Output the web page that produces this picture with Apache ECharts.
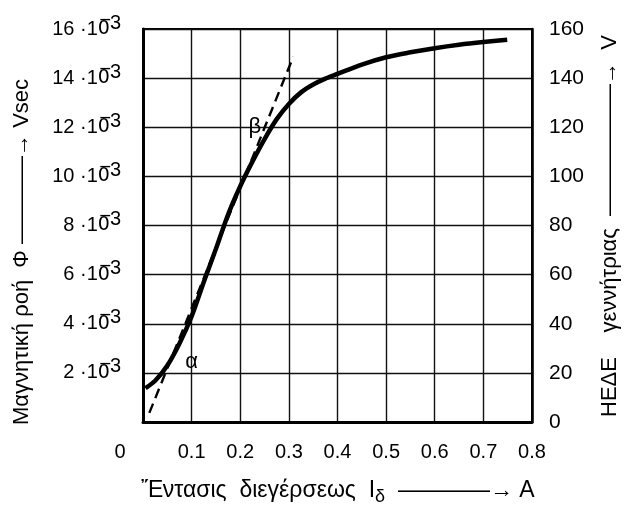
<!DOCTYPE html>
<html>
<head>
<meta charset="utf-8">
<script src="https://cdn.jsdelivr.net/npm/echarts@6/dist/echarts.min.js"></script>
<style>
  html, body { margin: 0; padding: 0; background: #fff; }
  #chart { width: 627px; height: 510px; }
</style>
</head>
<body>
<div id="chart"></div>
<script>
// Excitation current (A) vs magnetic flux (10^-3 Vsec)
const currentA = [0.005, 0.025, 0.05, 0.075, 0.1, 0.125, 0.15, 0.175, 0.2, 0.225, 0.25, 0.275,
  0.3, 0.325, 0.35, 0.375, 0.4, 0.45, 0.5, 0.55, 0.6, 0.65, 0.7, 0.749];
const fluxMilli = [1.38, 1.68, 2.3, 3.2, 4.3, 5.7, 7.05, 8.45, 9.6, 10.6, 11.52, 12.33,
  12.95, 13.42, 13.74, 13.98, 14.17, 14.55, 14.85, 15.05, 15.22, 15.36, 15.47, 15.56];
// dashed tangent line through α and β
const tangentX = [0.013, 0.309];
const tangentY = [0.37, 14.87];
const fluxTicks = [0, 2, 4, 6, 8, 10, 12, 14, 16];
const voltTicks = [0, 20, 40, 60, 80, 100, 120, 140, 160];

const FONT = '"Liberation Sans", Arial, sans-serif';

const chart = echarts.init(document.getElementById('chart'));

const curveData = currentA.map((x, i) => [x, fluxMilli[i]]);
const tangentData = tangentX.map((x, i) => [x, tangentY[i]]);

const option = {
  backgroundColor: '#fff',
  animation: false,
  grid: {
    left: 143, right: 95, top: 29, bottom: 88,
    show: true, borderColor: '#000', borderWidth: 2
  },
  xAxis: {
    type: 'value', min: 0, max: 0.8, interval: 0.1,
    axisLine: { show: true, lineStyle: { color: '#000', width: 3 } },
    axisTick: { show: false },
    splitLine: { show: true, lineStyle: { color: '#111', width: 1.4 } },
    axisLabel: {
      margin: 20, color: '#000', fontFamily: FONT, fontSize: 20,
      formatter: v => v === 0 ? '{z|0}' : String(Math.round(v * 10) / 10),
      rich: { z: { fontFamily: FONT, fontSize: 20, color: '#000', padding: [0, 46, 0, 0] } }
    }
  },
  yAxis: [
    {
      type: 'value', min: 0, max: fluxTicks[fluxTicks.length - 1], interval: 2,
      axisLine: { show: true, lineStyle: { color: '#000', width: 3 } },
      axisTick: { show: false },
      splitLine: { show: true, lineStyle: { color: '#111', width: 1.4 } },
      axisLabel: {
        margin: 22, color: '#000', align: 'right',
        formatter: v => v === 0 ? '' : '{a|' + v + ' ·1}{b|0\u0305}{s|3}',
        rich: {
          a: { fontFamily: FONT, fontSize: 20, color: '#000', lineHeight: 32 },
          b: { fontFamily: '"DejaVu Sans", sans-serif', fontSize: 19, color: '#000', lineHeight: 32 },
          s: { fontFamily: FONT, fontSize: 20, color: '#000', lineHeight: 20, verticalAlign: 'top' }
        }
      }
    },
    {
      type: 'value', min: 0, max: voltTicks[voltTicks.length - 1], interval: 20,
      position: 'right',
      axisLine: { show: true, lineStyle: { color: '#000', width: 2.5 } },
      axisTick: { show: false },
      splitLine: { show: false },
      axisLabel: { margin: 17, color: '#000', fontFamily: FONT, fontSize: 21 }
    }
  ],
  series: [
    {
      type: 'line', data: curveData, smooth: 0.3, showSymbol: false,
      lineStyle: { color: '#000', width: 4.5 }
    },
    {
      type: 'line', data: tangentData, showSymbol: false,
      lineStyle: { color: '#000', width: 2.4, type: [10, 6] },
      markPoint: {
        symbol: 'circle', symbolSize: 0,
        label: { show: true, color: '#000', fontFamily: FONT, fontSize: 22, formatter: p => p.name },
        data: [
          { name: 'α', coord: [0.1, 2.44] },
          { name: 'β', coord: [0.23, 12.0] }
        ]
      }
    }
  ],
  graphic: [
    {
      type: 'text', x: 22, y: 252, rotation: Math.PI / 2,
      style: {
        text: 'Μαγνητική ροή  Φ ————→ Vsec',
        font: '22px ' + FONT, fill: '#000', align: 'center', verticalAlign: 'middle'
      }
    },
    {
      type: 'text', x: 610, y: 226, rotation: Math.PI / 2,
      style: {
        text: 'ΗΕΔΕ    γεννήτριας  ——————→  V',
        font: '22px ' + FONT, fill: '#000', align: 'center', verticalAlign: 'middle'
      }
    },
    {
      type: 'text', x: 338, y: 491,
      style: {
        text: '{m|Ἔντασις  διεγέρσεως  I}{d|δ}{m|  ————→ A}',
        align: 'center', verticalAlign: 'middle',
        rich: {
          m: { fontFamily: FONT, fontSize: 23, fill: '#000', lineHeight: 30 },
          d: { fontFamily: FONT, fontSize: 18, fill: '#000', lineHeight: 18, verticalAlign: 'bottom' }
        }
      }
    }
  ]
};

chart.setOption(option);
</script>
</body>
</html>
